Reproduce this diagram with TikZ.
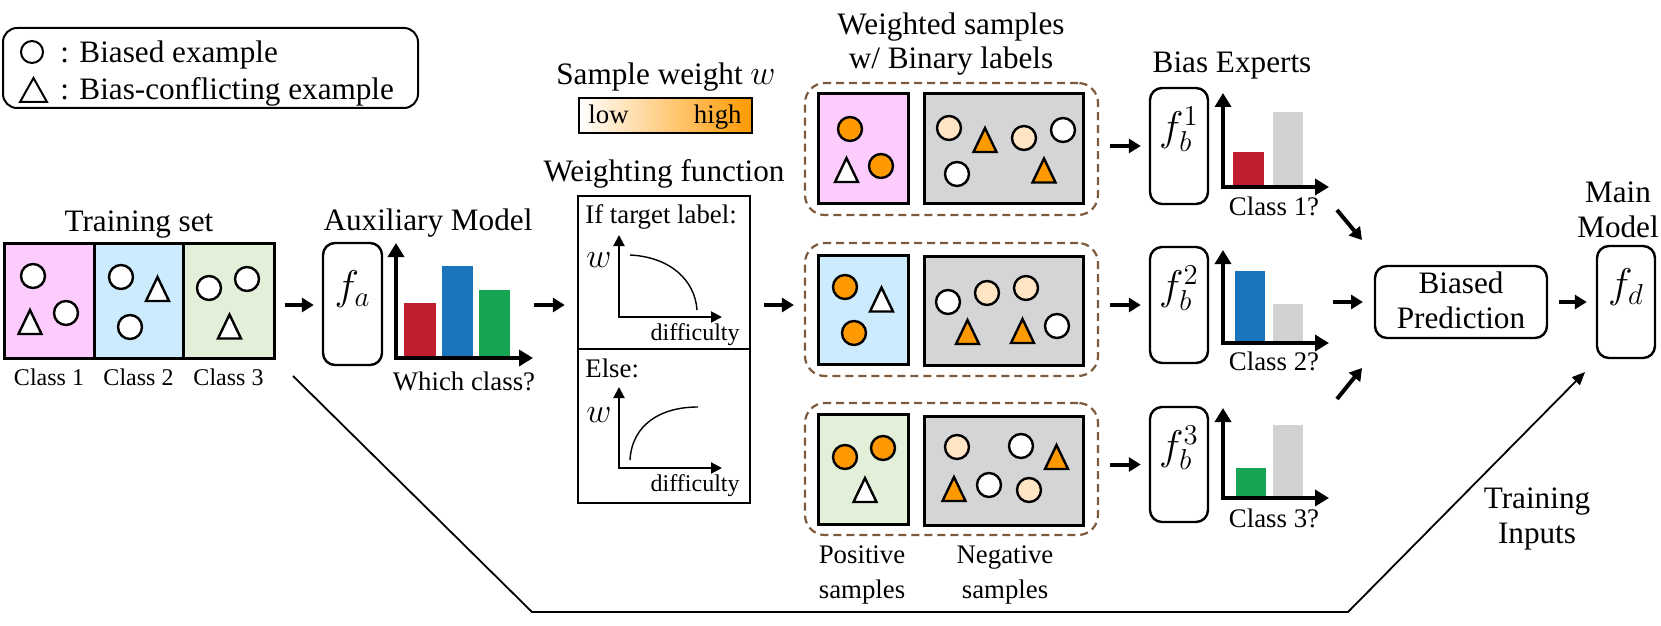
\documentclass[tikz,border=0pt]{standalone}
\usepackage{fontspec}
\setmainfont{Liberation Serif}
\usetikzlibrary{arrows.meta,fit}
\definecolor{pinkC}{HTML}{FDCCFD}
\definecolor{blueC}{HTML}{CCEBFC}
\definecolor{greenC}{HTML}{E2EFD9}
\definecolor{grayBox}{HTML}{D4D5D7}
\definecolor{orangeC}{HTML}{FF9900}
\definecolor{peachC}{HTML}{FFE5C4}
\definecolor{redBar}{HTML}{BE1E2D}
\definecolor{blueBar}{HTML}{1B75BC}
\definecolor{greenBar}{HTML}{17A554}
\definecolor{grayBar}{HTML}{D1D2D4}
\definecolor{brownC}{HTML}{7D5A3C}
\newcommand{\fntL}{\fontsize{15.6pt}{17.5pt}\selectfont}
\newcommand{\fntM}{\fontsize{13.4pt}{16pt}\selectfont}
\newcommand{\fntS}{\fontsize{12pt}{14pt}\selectfont}
\newcommand{\fntF}{\fontsize{21pt}{23pt}\selectfont}
\newcommand{\fntW}{\fontsize{19pt}{21pt}\selectfont}
\newcommand{\sC}[3]{\draw[samp, fill=#3] (#1,#2) circle[radius=6pt];}
\newcommand{\sT}[3]{\draw[samp, fill=#3] ({#1-11.5},{#2+12}) -- ({#1+11.5},{#2+12}) -- (#1,{#2-12}) -- cycle;}
\begin{document}
\begin{tikzpicture}[x=0.5pt,y=-0.5pt,
  txt/.style={inner sep=0pt, anchor=base},
  bigarrow/.style={line width=2pt, -{Triangle[length=6pt,width=7pt]}},
  axisL/.style={line width=2.2pt, {Triangle[length=7pt,width=8pt]}-{Triangle[length=7pt,width=8pt]}},
  axisS/.style={line width=1pt, {Triangle[length=5.5pt,width=5.5pt]}-{Triangle[length=5.5pt,width=5.5pt]}},
  fbox/.style={draw, line width=1.2pt, rounded corners=6pt, inner sep=0pt},
  plainbox/.style={draw, line width=1.5pt, inner sep=0pt},
  grp/.style={draw=brownC, line width=1.1pt, dash pattern=on 4pt off 2.5pt, rounded corners=10pt, inner sep=0pt},
  samp/.style={line width=1.2pt},
  curve/.style={line width=0.7pt}
]
\useasboundingbox (0,0) rectangle (1661,626);

% ---------- legend ----------
\node[draw, line width=1pt, rounded corners=7pt, inner sep=0pt, fit={(3,28) (418,108)}] (legend) {};
\draw[line width=1pt] (32,52) circle[radius=5.5pt];
\draw[line width=1pt] (20,102) -- (47,102) -- (33.5,78) -- cycle;
\node[txt, anchor=base west] (lg1) at (60,63) {\fntL : Biased example};
\node[txt, anchor=base west] (lg2) at (60,100) {\fntL : Bias-conflicting example};

% ---------- training set ----------
\node[txt] (tstitle) at (139,232) {\fntL Training set};
\fill[pinkC] (4,243) rectangle (94,358);
\fill[blueC] (94,243) rectangle (183,358);
\fill[greenC] (183,243) rectangle (274,358);
\draw[line width=1.5pt] (94,243) -- (94,358) (183,243) -- (183,358);
\node[plainbox, fit={(4,243) (274,358)}] (ts) {};
\sC{33}{276}{white} \sC{66}{313}{white} \sT{30}{322}{white}
\sC{121}{277}{white} \sT{157.5}{289}{white} \sC{130}{327}{white}
\sC{209}{288}{white} \sC{247}{279}{white} \sT{229.5}{326.5}{white}
\node[txt] (c1) at (49,385) {\fntS Class 1};
\node[txt] (c2) at (138.5,385) {\fntS Class 2};
\node[txt] (c3) at (228.5,385) {\fntS Class 3};

% ---------- auxiliary model ----------
\node[txt] (auxtitle) at (428,230) {\fntL Auxiliary Model};
\node[fbox, fit={(323,243) (382,365)}] (fa) {\fntF $f_a$};
\fill[redBar] (404,303) rectangle (436,356);
\fill[blueBar] (442,266) rectangle (473,356);
\fill[greenBar] (479,290) rectangle (510,356);
\draw[axisL] (396,243) |- (533,358);
\node[txt] (which) at (464,390) {\fntM Which class?};

% ---------- sample weight ----------
\node[txt] (swtitle) at (666,85) {\fntL Sample weight {\fntW $w$}};
\node[draw, line width=1pt, inner sep=0pt, left color=white, right color=orangeC, fit={(579,98) (752,133)}] (wbar) {};
\node[txt, anchor=base west] (low) at (588,124) {\fntM low};
\node[txt, anchor=base east] (high) at (742,124) {\fntM high};

% ---------- weighting function ----------
\node[txt] (wftitle) at (664,182) {\fntL Weighting function};
\node[draw, line width=1.2pt, inner sep=0pt, fit={(578,196) (750,503)}] (wf) {};
\draw[line width=1.2pt] (578,349) -- (750,349);
\node[txt, anchor=base west] (iftl) at (585,223) {\fntM If target label:};
\node[txt, anchor=base west] (w1) at (586,267) {\fntW $w$};
\draw[axisS] (619,235) |- (722,317);
\draw[curve] (630,255) .. controls (670,257) and (695,280) .. (697,310);
\node[txt, anchor=base east] (d1) at (740,340) {\fntS difficulty};
\node[txt, anchor=base west] (else) at (585,377) {\fntM Else:};
\node[txt, anchor=base west] (w2) at (586,422) {\fntW $w$};
\draw[axisS] (619,387) |- (722,468);
\draw[curve] (630,460) .. controls (632,425) and (660,407) .. (698,407);
\node[txt, anchor=base east] (d2) at (740,491) {\fntS difficulty};

% ---------- weighted sample groups ----------
\node[txt] (gt1) at (951,35) {\fntL Weighted samples};
\node[txt] (gt2) at (951,69) {\fntL w/ Binary labels};

\node[grp, fit={(805,83) (1098,215)}] (g1) {};
\node[plainbox, fill=pinkC, fit={(818,94) (908,204)}] (p1) {};
\node[plainbox, fill=grayBox, fit={(924,94) (1083,204)}] (n1) {};
\sC{850}{129}{orangeC} \sC{881}{166}{orangeC} \sT{846.5}{170}{white}
\sC{949}{128}{peachC} \sT{985}{140}{orangeC} \sC{1024}{138}{peachC}
\sC{1063}{130}{white} \sC{957}{174}{white} \sT{1044}{170.5}{orangeC}

\node[grp, fit={(805,243) (1098,376)}] (g2) {};
\node[plainbox, fill=blueC, fit={(818,255) (908,364)}] (p2) {};
\node[plainbox, fill=grayBox, fit={(924,256) (1083,365)}] (n2) {};
\sC{845}{287}{orangeC} \sT{881.5}{299.5}{white} \sC{854}{333}{orangeC}
\sC{948}{302}{white} \sC{987}{293}{peachC} \sC{1026}{288}{peachC}
\sT{967.5}{332}{orangeC} \sT{1022.5}{331}{orangeC} \sC{1057}{326}{white}

\node[grp, fit={(805,403) (1098,535)}] (g3) {};
\node[plainbox, fill=greenC, fit={(818,414) (908,524)}] (p3) {};
\node[plainbox, fill=grayBox, fit={(924,416) (1083,525)}] (n3) {};
\sC{845}{457}{orangeC} \sC{883}{448}{orangeC} \sT{865}{490}{white}
\sC{957}{447}{peachC} \sC{1021}{446}{white} \sT{1056.5}{457}{orangeC}
\sT{954}{489}{orangeC} \sC{989}{485}{white} \sC{1029}{490}{peachC}

\node[txt] (pos1) at (862,563) {\fntM Positive};
\node[txt] (pos2) at (862,598) {\fntM samples};
\node[txt] (neg1) at (1005,563) {\fntM Negative};
\node[txt] (neg2) at (1005,598) {\fntM samples};

% ---------- bias experts ----------
\node[txt] (betitle) at (1232,73) {\fntL Bias Experts};
\node[fbox, fit={(1150,88) (1208,204)}] (fb1) {\fntF $f_b^1$};
\node[fbox, fit={(1150,247) (1208,363)}] (fb2) {\fntF $f_b^2$};
\node[fbox, fit={(1150,407) (1208,522)}] (fb3) {\fntF $f_b^3$};

\fill[redBar] (1233,152) rectangle (1264,185);
\fill[grayBar] (1273,112) rectangle (1303,185);
\draw[axisL] (1223,93) |- (1329,187);
\node[txt] (cq1) at (1274,215) {\fntM Class 1?};

\fill[blueBar] (1235,271) rectangle (1265,341);
\fill[grayBar] (1273,304) rectangle (1303,341);
\draw[axisL] (1223,250) |- (1329,343);
\node[txt] (cq2) at (1274,370) {\fntM Class 2?};

\fill[greenBar] (1236,468) rectangle (1266,496);
\fill[grayBar] (1273,425) rectangle (1303,496);
\draw[axisL] (1223,408) |- (1329,498);
\node[txt] (cq3) at (1274,527) {\fntM Class 3?};

% ---------- biased prediction and main model ----------
\node[fbox, fit={(1375,266) (1547,338)}] (bp) {};
\node[txt] (bpt1) at (1461,293) {\fntL Biased};
\node[txt] (bpt2) at (1461,328) {\fntL Prediction};
\node[txt] (mm1) at (1618,203) {\fntL Main};
\node[txt] (mm2) at (1618,237) {\fntL Model};
\node[fbox, fit={(1597,246) (1655,358)}] (fd) {\fntF $f_d$};
\node[txt] (ti1) at (1537,508) {\fntL Training};
\node[txt] (ti2) at (1537,543) {\fntL Inputs};

% ---------- connectors ----------
\coordinate (r305) at (0,305);
\coordinate (auxR) at (534,305);
\draw[bigarrow, shorten <=4.5pt, shorten >=4pt] (ts.east |- r305) -- (fa.west |- r305);
\draw[bigarrow, shorten >=6pt] (auxR) -- (wf.west |- auxR);
\draw[bigarrow, shorten <=6.5pt, shorten >=5pt] (wf.east |- r305) -- (g2.west |- r305);
\draw[bigarrow, shorten <=5.5pt, shorten >=4pt] (g1.east |- fb1.west) -- (fb1.west);
\draw[bigarrow, shorten <=5.5pt, shorten >=4pt] (g2.east |- fb2.west) -- (fb2.west);
\draw[bigarrow, shorten <=5.5pt, shorten >=4pt] (g3.east |- fb3.west) -- (fb3.west);

\coordinate (d1s) at (1337,210); \coordinate (d1e) at (1362,240);
\coordinate (d2s) at (1333,302); \coordinate (d2e) at (1363,302);
\coordinate (d3s) at (1337,399); \coordinate (d3e) at (1362,368);
\draw[bigarrow] (d1s) -- (d1e);
\draw[bigarrow] (d2s) -- (d2e);
\draw[bigarrow] (d3s) -- (d3e);
\draw[bigarrow, shorten <=5.5pt, shorten >=4.5pt] (bp.east) -- (fd.west);

\coordinate (tin) at (293,376);
\coordinate (fdin) at (1585,372);
\draw[line width=0.9pt, -{Triangle[length=6.5pt,width=5.5pt]}] (tin) -- (532,612) -- (1348,612) -- (fdin);
\end{tikzpicture}
\end{document}
